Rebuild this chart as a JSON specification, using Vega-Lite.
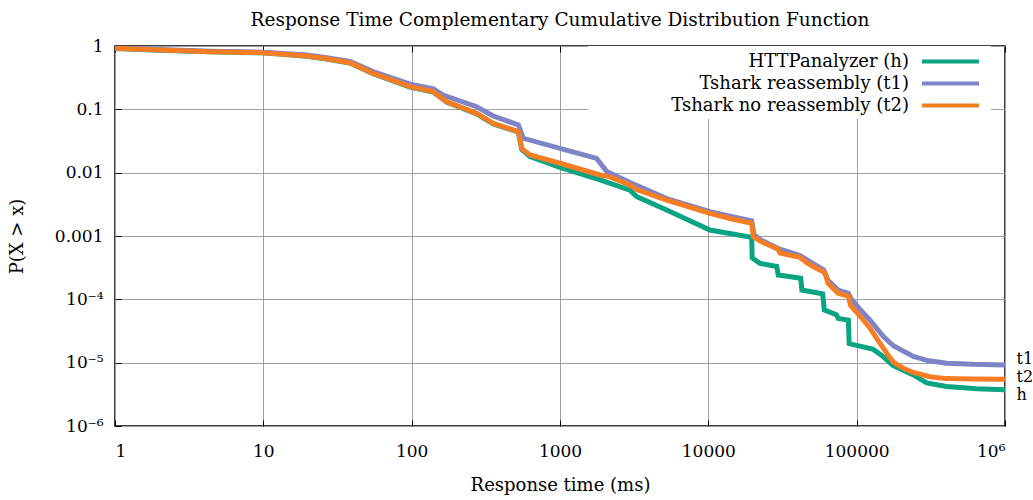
{
  "$schema": "https://vega.github.io/schema/vega-lite/v6.json",
  "width": 890,
  "height": 380,
  "autosize": "none",
  "padding": {"left": 115, "top": 46, "right": 28, "bottom": 74},
  "background": "white",
  "config": {
    "font": "DejaVu Serif",
    "view": {"stroke": "#000", "strokeWidth": 1.5},
    "axis": {
      "labelFont": "DejaVu Serif",
      "titleFont": "DejaVu Serif",
      "labelColor": "#000",
      "titleColor": "#000",
      "labelFontSize": 17,
      "titleFontSize": 18,
      "titleFontWeight": "normal",
      "gridColor": "#a0a0a0",
      "gridWidth": 1,
      "gridOpacity": 1,
      "tickColor": "#000",
      "domain": false
    }
  },
  "title": {
    "text": "Response Time Complementary Cumulative Distribution Function",
    "fontSize": 18.5,
    "fontWeight": "normal",
    "font": "DejaVu Serif",
    "color": "#000",
    "anchor": "middle",
    "offset": 8
  },
  "data": {
    "values": [
      {"s": "HTTPanalyzer (h)", "x": 1, "p": 0.915},
      {"s": "HTTPanalyzer (h)", "x": 2, "p": 0.86},
      {"s": "HTTPanalyzer (h)", "x": 4.4, "p": 0.81},
      {"s": "HTTPanalyzer (h)", "x": 10, "p": 0.78},
      {"s": "HTTPanalyzer (h)", "x": 19.6, "p": 0.69},
      {"s": "HTTPanalyzer (h)", "x": 25.4, "p": 0.635},
      {"s": "HTTPanalyzer (h)", "x": 38.4, "p": 0.54},
      {"s": "HTTPanalyzer (h)", "x": 55, "p": 0.365},
      {"s": "HTTPanalyzer (h)", "x": 97.5, "p": 0.225},
      {"s": "HTTPanalyzer (h)", "x": 140, "p": 0.188},
      {"s": "HTTPanalyzer (h)", "x": 172, "p": 0.13},
      {"s": "HTTPanalyzer (h)", "x": 274, "p": 0.085},
      {"s": "HTTPanalyzer (h)", "x": 355, "p": 0.059},
      {"s": "HTTPanalyzer (h)", "x": 524, "p": 0.0437},
      {"s": "HTTPanalyzer (h)", "x": 552, "p": 0.0232},
      {"s": "HTTPanalyzer (h)", "x": 628, "p": 0.018},
      {"s": "HTTPanalyzer (h)", "x": 1000, "p": 0.0121},
      {"s": "HTTPanalyzer (h)", "x": 1862, "p": 0.0077},
      {"s": "HTTPanalyzer (h)", "x": 2965, "p": 0.0053},
      {"s": "HTTPanalyzer (h)", "x": 3290, "p": 0.0042},
      {"s": "HTTPanalyzer (h)", "x": 5240, "p": 0.00257},
      {"s": "HTTPanalyzer (h)", "x": 10250, "p": 0.00124},
      {"s": "HTTPanalyzer (h)", "x": 16300, "p": 0.00103},
      {"s": "HTTPanalyzer (h)", "x": 19600, "p": 0.00095},
      {"s": "HTTPanalyzer (h)", "x": 19750, "p": 0.00045},
      {"s": "HTTPanalyzer (h)", "x": 22300, "p": 0.00037},
      {"s": "HTTPanalyzer (h)", "x": 28900, "p": 0.00033},
      {"s": "HTTPanalyzer (h)", "x": 29600, "p": 0.000242},
      {"s": "HTTPanalyzer (h)", "x": 42000, "p": 0.000215},
      {"s": "HTTPanalyzer (h)", "x": 42700, "p": 0.00014},
      {"s": "HTTPanalyzer (h)", "x": 59000, "p": 0.000122},
      {"s": "HTTPanalyzer (h)", "x": 60500, "p": 0.000068},
      {"s": "HTTPanalyzer (h)", "x": 73000, "p": 0.000057},
      {"s": "HTTPanalyzer (h)", "x": 75200, "p": 0.00005},
      {"s": "HTTPanalyzer (h)", "x": 87900, "p": 0.000047},
      {"s": "HTTPanalyzer (h)", "x": 89000, "p": 0.00002},
      {"s": "HTTPanalyzer (h)", "x": 129400, "p": 0.0000162},
      {"s": "HTTPanalyzer (h)", "x": 147500, "p": 0.000013},
      {"s": "HTTPanalyzer (h)", "x": 176600, "p": 0.000009},
      {"s": "HTTPanalyzer (h)", "x": 241000, "p": 0.0000064},
      {"s": "HTTPanalyzer (h)", "x": 296500, "p": 0.0000048},
      {"s": "HTTPanalyzer (h)", "x": 404000, "p": 0.0000042},
      {"s": "HTTPanalyzer (h)", "x": 644000, "p": 0.00000387},
      {"s": "HTTPanalyzer (h)", "x": 1000000, "p": 0.00000375},
      {"s": "Tshark reassembly (t1)", "x": 1, "p": 0.93},
      {"s": "Tshark reassembly (t1)", "x": 2, "p": 0.88},
      {"s": "Tshark reassembly (t1)", "x": 4.4, "p": 0.83},
      {"s": "Tshark reassembly (t1)", "x": 10, "p": 0.8},
      {"s": "Tshark reassembly (t1)", "x": 19.6, "p": 0.72},
      {"s": "Tshark reassembly (t1)", "x": 25.4, "p": 0.665},
      {"s": "Tshark reassembly (t1)", "x": 38.4, "p": 0.57},
      {"s": "Tshark reassembly (t1)", "x": 55, "p": 0.395},
      {"s": "Tshark reassembly (t1)", "x": 97.5, "p": 0.25},
      {"s": "Tshark reassembly (t1)", "x": 140, "p": 0.21},
      {"s": "Tshark reassembly (t1)", "x": 163, "p": 0.168},
      {"s": "Tshark reassembly (t1)", "x": 274, "p": 0.11},
      {"s": "Tshark reassembly (t1)", "x": 355, "p": 0.0785},
      {"s": "Tshark reassembly (t1)", "x": 524, "p": 0.0566},
      {"s": "Tshark reassembly (t1)", "x": 566, "p": 0.0349},
      {"s": "Tshark reassembly (t1)", "x": 1000, "p": 0.0242},
      {"s": "Tshark reassembly (t1)", "x": 1766, "p": 0.0168},
      {"s": "Tshark reassembly (t1)", "x": 2065, "p": 0.0104},
      {"s": "Tshark reassembly (t1)", "x": 2965, "p": 0.007},
      {"s": "Tshark reassembly (t1)", "x": 5240, "p": 0.0039},
      {"s": "Tshark reassembly (t1)", "x": 10250, "p": 0.00243},
      {"s": "Tshark reassembly (t1)", "x": 14750, "p": 0.002},
      {"s": "Tshark reassembly (t1)", "x": 19600, "p": 0.00173},
      {"s": "Tshark reassembly (t1)", "x": 20300, "p": 0.00105},
      {"s": "Tshark reassembly (t1)", "x": 22300, "p": 0.00088},
      {"s": "Tshark reassembly (t1)", "x": 30400, "p": 0.00062},
      {"s": "Tshark reassembly (t1)", "x": 41500, "p": 0.00049},
      {"s": "Tshark reassembly (t1)", "x": 60000, "p": 0.00029},
      {"s": "Tshark reassembly (t1)", "x": 64000, "p": 0.0002},
      {"s": "Tshark reassembly (t1)", "x": 75000, "p": 0.00014},
      {"s": "Tshark reassembly (t1)", "x": 88000, "p": 0.000125},
      {"s": "Tshark reassembly (t1)", "x": 91000, "p": 0.000105},
      {"s": "Tshark reassembly (t1)", "x": 105000, "p": 0.00007},
      {"s": "Tshark reassembly (t1)", "x": 123000, "p": 0.000047},
      {"s": "Tshark reassembly (t1)", "x": 151000, "p": 0.000026},
      {"s": "Tshark reassembly (t1)", "x": 176600, "p": 0.0000185},
      {"s": "Tshark reassembly (t1)", "x": 241000, "p": 0.0000125},
      {"s": "Tshark reassembly (t1)", "x": 300000, "p": 0.0000108},
      {"s": "Tshark reassembly (t1)", "x": 404000, "p": 0.0000098},
      {"s": "Tshark reassembly (t1)", "x": 611000, "p": 0.0000094},
      {"s": "Tshark reassembly (t1)", "x": 1000000, "p": 0.0000092},
      {"s": "Tshark no reassembly (t2)", "x": 1, "p": 0.92},
      {"s": "Tshark no reassembly (t2)", "x": 2, "p": 0.865},
      {"s": "Tshark no reassembly (t2)", "x": 4.4, "p": 0.815},
      {"s": "Tshark no reassembly (t2)", "x": 10, "p": 0.785},
      {"s": "Tshark no reassembly (t2)", "x": 19.6, "p": 0.695},
      {"s": "Tshark no reassembly (t2)", "x": 25.4, "p": 0.64},
      {"s": "Tshark no reassembly (t2)", "x": 38.4, "p": 0.545},
      {"s": "Tshark no reassembly (t2)", "x": 55, "p": 0.37},
      {"s": "Tshark no reassembly (t2)", "x": 97.5, "p": 0.228},
      {"s": "Tshark no reassembly (t2)", "x": 140, "p": 0.19},
      {"s": "Tshark no reassembly (t2)", "x": 172, "p": 0.132},
      {"s": "Tshark no reassembly (t2)", "x": 274, "p": 0.0865},
      {"s": "Tshark no reassembly (t2)", "x": 355, "p": 0.06},
      {"s": "Tshark no reassembly (t2)", "x": 524, "p": 0.0444},
      {"s": "Tshark no reassembly (t2)", "x": 552, "p": 0.0242},
      {"s": "Tshark no reassembly (t2)", "x": 628, "p": 0.019},
      {"s": "Tshark no reassembly (t2)", "x": 1000, "p": 0.0141},
      {"s": "Tshark no reassembly (t2)", "x": 1862, "p": 0.0092},
      {"s": "Tshark no reassembly (t2)", "x": 2168, "p": 0.0086},
      {"s": "Tshark no reassembly (t2)", "x": 2965, "p": 0.0064},
      {"s": "Tshark no reassembly (t2)", "x": 3290, "p": 0.0054},
      {"s": "Tshark no reassembly (t2)", "x": 5240, "p": 0.0037},
      {"s": "Tshark no reassembly (t2)", "x": 10250, "p": 0.00228},
      {"s": "Tshark no reassembly (t2)", "x": 14750, "p": 0.00184},
      {"s": "Tshark no reassembly (t2)", "x": 19600, "p": 0.00158},
      {"s": "Tshark no reassembly (t2)", "x": 20100, "p": 0.00098},
      {"s": "Tshark no reassembly (t2)", "x": 22300, "p": 0.00083},
      {"s": "Tshark no reassembly (t2)", "x": 29500, "p": 0.00062},
      {"s": "Tshark no reassembly (t2)", "x": 30400, "p": 0.00054},
      {"s": "Tshark no reassembly (t2)", "x": 41500, "p": 0.00046},
      {"s": "Tshark no reassembly (t2)", "x": 46000, "p": 0.00038},
      {"s": "Tshark no reassembly (t2)", "x": 52000, "p": 0.00032},
      {"s": "Tshark no reassembly (t2)", "x": 60000, "p": 0.00027},
      {"s": "Tshark no reassembly (t2)", "x": 62000, "p": 0.00024},
      {"s": "Tshark no reassembly (t2)", "x": 64000, "p": 0.00018},
      {"s": "Tshark no reassembly (t2)", "x": 75000, "p": 0.000125},
      {"s": "Tshark no reassembly (t2)", "x": 88000, "p": 0.000112},
      {"s": "Tshark no reassembly (t2)", "x": 91000, "p": 0.00008},
      {"s": "Tshark no reassembly (t2)", "x": 105000, "p": 0.000055},
      {"s": "Tshark no reassembly (t2)", "x": 123000, "p": 0.000035},
      {"s": "Tshark no reassembly (t2)", "x": 144000, "p": 0.00002},
      {"s": "Tshark no reassembly (t2)", "x": 160000, "p": 0.000014},
      {"s": "Tshark no reassembly (t2)", "x": 176600, "p": 0.0000102},
      {"s": "Tshark no reassembly (t2)", "x": 210000, "p": 0.000008},
      {"s": "Tshark no reassembly (t2)", "x": 241000, "p": 0.000007},
      {"s": "Tshark no reassembly (t2)", "x": 312000, "p": 0.000006},
      {"s": "Tshark no reassembly (t2)", "x": 400000, "p": 0.0000056},
      {"s": "Tshark no reassembly (t2)", "x": 611000, "p": 0.0000055},
      {"s": "Tshark no reassembly (t2)", "x": 1000000, "p": 0.00000545}
    ]
  },
  "layer": [
    {
      "mark": {"type": "line", "strokeWidth": 5, "clip": true},
      "encoding": {
        "x": {
          "field": "x",
          "type": "quantitative",
          "title": "Response time (ms)",
          "scale": {"type": "log", "domain": [1, 1000000]},
          "axis": {
            "values": [1, 10, 100, 1000, 10000, 100000, 1000000],
            "labelExpr": "datum.value >= 1000000 ? '10⁶' : format(datum.value, 'd')",
            "grid": true,
            "tickSize": -6,
            "labelPadding": 23,
            "titlePadding": 17
          }
        },
        "y": {
          "field": "p",
          "type": "quantitative",
          "title": "P(X > x)",
          "scale": {"type": "log", "domain": [0.000001, 1]},
          "axis": {
            "values": [0.000001, 0.00001, 0.0001, 0.001, 0.01, 0.1, 1],
            "labelExpr": "datum.value >= 0.0009 ? format(datum.value, '~g') : (datum.value >= 0.00009 ? '10⁻⁴' : (datum.value >= 0.000009 ? '10⁻⁵' : '10⁻⁶'))",
            "grid": true,
            "tickSize": -6,
            "labelPadding": 18,
            "titlePadding": 28
          }
        },
        "color": {
          "field": "s",
          "type": "nominal",
          "scale": {
            "domain": ["HTTPanalyzer (h)", "Tshark reassembly (t1)", "Tshark no reassembly (t2)"],
            "range": ["#0aa482", "#7f84c6", "#f57d24"]
          },
          "legend": {
            "title": null,
            "orient": "none",
            "legendX": 473,
            "legendY": 0,
            "fillColor": "white",
            "symbolType": "M-3,0H3",
            "symbolSize": 361,
            "symbolStrokeWidth": 4,
            "symbolOffset": 347,
            "labelFont": "DejaVu Serif",
            "labelFontSize": 18,
            "labelColor": "#000",
            "labelAlign": "right",
            "labelOffset": -53,
            "labelLimit": 400,
            "rowPadding": 1,
            "padding": 4
          }
        }
      }
    },
    {
      "mark": {"type": "point", "opacity": 0},
      "encoding": {
        "x": {
          "field": "x",
          "type": "quantitative",
          "scale": {"type": "log", "domain": [1, 1000000]},
          "axis": {
            "orient": "top",
            "values": [1, 10, 100, 1000, 10000, 100000, 1000000],
            "labels": false,
            "grid": false,
            "tickSize": -6,
            "title": null
          }
        },
        "y": {
          "field": "p",
          "type": "quantitative",
          "scale": {"type": "log", "domain": [0.000001, 1]},
          "axis": {
            "orient": "right",
            "values": [0.0000118, 0.000006, 0.0000031],
            "labelExpr": "datum.value > 0.00001 ? 't1' : (datum.value > 0.000005 ? 't2' : 'h')",
            "grid": false,
            "ticks": false,
            "labelPadding": 11,
            "labelFontSize": 16,
            "title": null
          }
        }
      }
    }
  ],
  "resolve": {"axis": {"x": "independent", "y": "independent"}}
}
